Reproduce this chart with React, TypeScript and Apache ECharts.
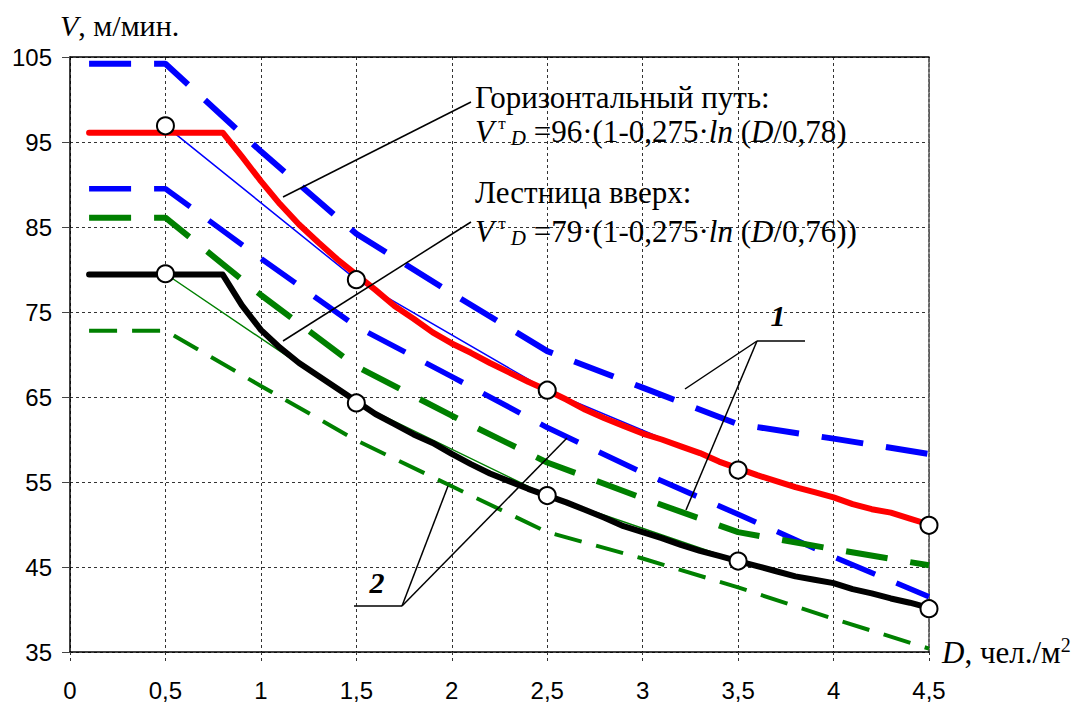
import React, { useEffect, useRef } from "react";
import * as echarts from "echarts";

// ---------- data ----------
const xTickLabels = ["0", "0,5", "1", "1,5", "2", "2,5", "3", "3,5", "4", "4,5"];
const yTickLabels = ["35", "45", "55", "65", "75", "85", "95", "105"];

// dashed curves (D, V)
const blueUpperD = [0.1, 0.5, 1, 1.5, 2, 2.5, 3, 3.5, 4, 4.5];
const blueUpperV = [104.2, 104.2, 93.9, 84.2, 77.2, 70.4, 66.1, 61.8, 60.1, 58.3];
const blueMidD = [0.1, 0.5, 1, 1.5, 2, 2.5, 3, 3.5, 4, 4.5];
const blueMidV = [89.5, 89.5, 81.3, 73.3, 67.4, 61.4, 56.1, 51.2, 46.2, 41.5];
const greenThickD = [0.1, 0.5, 1, 1.5, 2, 2.5, 3, 3.5, 4, 4.5];
const greenThickV = [86.1, 86.1, 77.0, 68.6, 62.8, 57.3, 53.1, 49.1, 47.1, 45.2];
const greenThinD = [0.1, 0.5, 1, 1.5, 2, 2.5, 3, 3.5, 4, 4.5];
const greenThinV = [72.8, 72.8, 66.3, 59.9, 54.5, 49.1, 46.0, 42.6, 38.9, 35.4];

// thick solid curves
const curveD = [0.1, 0.8, 0.9, 1.0, 1.1, 1.2, 1.3, 1.4, 1.5, 1.6, 1.7, 1.8, 1.9, 2.0, 2.1, 2.2, 2.3, 2.4, 2.5, 2.6, 2.7, 2.8, 2.9, 3.0, 3.1, 3.2, 3.3, 3.4, 3.5, 3.6, 3.7, 3.8, 3.9, 4.0, 4.1, 4.2, 4.3, 4.4, 4.5];
const horizV = [96.1, 96.1, 93.3, 90.4, 87.7, 85.3, 83.2, 81.2, 79.4, 77.6, 75.7, 74.2, 72.6, 71.3, 70.2, 69.0, 67.9, 66.8, 65.8, 64.7, 63.5, 62.5, 61.6, 60.7, 60.0, 59.2, 58.4, 57.4, 56.6, 55.8, 55.1, 54.4, 53.8, 53.2, 52.4, 51.8, 51.4, 50.7, 50.0];
const stairsV = [79.4, 79.4, 75.8, 72.9, 70.8, 69.0, 67.5, 66.0, 64.5, 63.0, 61.8, 60.6, 59.6, 58.3, 57.1, 56.0, 55.1, 54.2, 53.4, 52.6, 51.7, 50.8, 49.8, 49.1, 48.4, 47.6, 46.9, 46.3, 45.7, 45.1, 44.5, 43.9, 43.5, 43.1, 42.4, 41.9, 41.3, 40.8, 40.2];

// measured points (circles) and the thin lines through them
const pointD = [0.5, 1.5, 2.5, 3.5, 4.5];
const horizPointV = [96.9, 78.8, 65.8, 56.4, 49.9];
const stairsPointV = [79.5, 64.3, 53.4, 45.7, 40.1];

const zip = (xs: number[], ys: number[]) => xs.map((x, i) => [x, ys[i]]);

const SERIF = "'Liberation Serif', 'Times New Roman', serif";
const SANS = "'Liberation Sans', Arial, sans-serif";

export default function App() {
  const ref = useRef<HTMLDivElement>(null);

  useEffect(() => {
    document.body.style.margin = "0";
    if (!ref.current) return;
    const chart = echarts.init(ref.current, undefined, { renderer: "svg" });

    const dashed = (data: number[][], color: string, width: number, dash: number[]) => ({
      type: "line",
      data,
      symbol: "none",
      showSymbol: false,
      silent: true,
      z: 2,
      lineStyle: { color, width, type: dash, cap: "butt" },
    });
    const solid = (data: number[][], color: string, width: number, z: number) => ({
      type: "line",
      data,
      symbol: "none",
      showSymbol: false,
      silent: true,
      z,
      lineStyle: { color, width, type: "solid", cap: "round", join: "round" },
    });
    const circles = (data: number[][]) => ({
      type: "scatter",
      data,
      symbol: "circle",
      symbolSize: 17,
      silent: true,
      z: 6,
      itemStyle: { color: "#fff", borderColor: "#000", borderWidth: 2, opacity: 1 },
    });

    const lead = (x1: number, y1: number, x2: number, y2: number) => ({
      type: "line",
      silent: true,
      z: 10,
      shape: { x1, y1, x2, y2 },
      style: { stroke: "#000", lineWidth: 1.5 },
    });

    const eqRich = {
      i: { fontFamily: SERIF, fontSize: 31, fontStyle: "italic", lineHeight: 34, fill: "#000" },
      n: { fontFamily: SERIF, fontSize: 31, lineHeight: 34, fill: "#000" },
      sup: { fontFamily: SERIF, fontSize: 17, lineHeight: 10, verticalAlign: "top", fill: "#000" },
      sub: { fontFamily: SERIF, fontSize: 21, fontStyle: "italic", lineHeight: 13, verticalAlign: "bottom", fill: "#000" },
    };

    const option: any = {
      animation: false,
      grid: { left: 70, right: 148, top: 57, bottom: 50, outerBoundsMode: "none", containLabel: false },
      xAxis: [
        {
          type: "value",
          min: 0,
          max: 4.5,
          interval: 0.5,
          axisLine: { show: true, onZero: false, lineStyle: { color: "#000", width: 1.5 } },
          axisTick: { show: true, length: 9, lineStyle: { color: "#333", type: [3, 3] } },
          axisLabel: {
            margin: 26,
            fontSize: 24,
            fontFamily: SANS,
            color: "#000",
            formatter: (v: number) => xTickLabels[Math.round(v / 0.5)] ?? "",
          },
          splitLine: { show: true, lineStyle: { color: "#333", width: 1, type: [3, 3] } },
        },
        {
          type: "value",
          position: "top",
          min: 0,
          max: 4.5,
          axisLine: { show: true, onZero: false, lineStyle: { color: "#000", width: 1.5 } },
          axisTick: { show: false },
          axisLabel: { show: false },
          splitLine: { show: false },
        },
      ],
      yAxis: [
        {
          type: "value",
          min: 35,
          max: 105,
          interval: 10,
          axisLine: { show: true, onZero: false, lineStyle: { color: "#000", width: 1.5 } },
          axisTick: { show: true, length: 8, lineStyle: { color: "#444" } },
          axisLabel: {
            margin: 18,
            fontSize: 24,
            fontFamily: SANS,
            color: "#000",
            formatter: (v: number) => yTickLabels[Math.round((v - 35) / 10)] ?? "",
          },
          splitLine: { show: true, lineStyle: { color: "#333", width: 1, type: [3, 3] } },
        },
        {
          type: "value",
          position: "right",
          min: 35,
          max: 105,
          axisLine: { show: true, onZero: false, lineStyle: { color: "#666", width: 2, type: [3, 2] } },
          axisTick: { show: false },
          axisLabel: { show: false },
          splitLine: { show: false },
        },
      ],
      series: [
        dashed(zip(blueUpperD, blueUpperV), "#0000ff", 6, [42, 23]),
        dashed(zip(blueMidD, blueMidV), "#0000ff", 5.5, [42, 23]),
        dashed(zip(greenThickD, greenThickV), "#008000", 6, [42, 23]),
        dashed(zip(greenThinD, greenThinV), "#008000", 4, [28, 15]),
        solid(zip(pointD, horizPointV), "#0000ff", 1.5, 3),
        solid(zip(pointD, stairsPointV), "#008000", 1.5, 3),
        solid(zip(curveD, horizV), "#ff0000", 6, 4),
        solid(zip(curveD, stairsV), "#000000", 6, 4),
        circles(zip(pointD, horizPointV)),
        circles(zip(pointD, stairsPointV)),
      ],
      graphic: [
        // axis titles
        {
          type: "text",
          x: 60,
          y: 25,
          z: 10,
          style: {
            text: "{i|V}{n|, м/мин.}",
            verticalAlign: "middle",
            rich: {
              i: { fontFamily: SERIF, fontSize: 30, fontStyle: "italic", fill: "#000" },
              n: { fontFamily: SERIF, fontSize: 30, fill: "#000" },
            },
          },
        },
        {
          type: "text",
          x: 942,
          y: 652,
          z: 10,
          style: {
            text: "{i|D}{n|, чел./м}{sup|2}",
            verticalAlign: "middle",
            rich: {
              i: { fontFamily: SERIF, fontSize: 31, fontStyle: "italic", lineHeight: 34, fill: "#000" },
              n: { fontFamily: SERIF, fontSize: 31, lineHeight: 34, fill: "#000" },
              sup: { fontFamily: SERIF, fontSize: 20, lineHeight: 7, verticalAlign: "top", fill: "#000" },
            },
          },
        },
        // annotations
        {
          type: "text",
          x: 475,
          y: 97.5,
          z: 10,
          style: { text: "Горизонтальный путь:", fontFamily: SERIF, fontSize: 31, lineHeight: 32, fill: "#000", verticalAlign: "middle" },
        },
        {
          type: "text",
          x: 475,
          y: 131.5,
          z: 10,
          style: {
            text: "{i|V}{sup| т}{sub| D}{n| =96·(1-0,275·}{i|ln}{n| (}{i|D}{n|/0,78)}",
            verticalAlign: "middle",
            rich: eqRich,
          },
        },
        {
          type: "text",
          x: 475,
          y: 192.5,
          z: 10,
          style: { text: "Лестница вверх:", fontFamily: SERIF, fontSize: 31, lineHeight: 32, fill: "#000", verticalAlign: "middle" },
        },
        {
          type: "text",
          x: 475,
          y: 231.5,
          z: 10,
          style: {
            text: "{i|V}{sup| т}{sub| D}{n| =79·(1-0,275·}{i|ln}{n| (}{i|D}{n|/0,76))}",
            verticalAlign: "middle",
            rich: eqRich,
          },
        },
        {
          type: "text",
          x: 778,
          y: 315,
          z: 10,
          style: { text: "1", fontFamily: SERIF, fontSize: 30, fontWeight: "bold", fontStyle: "italic", fill: "#000", align: "center", verticalAlign: "middle" },
        },
        {
          type: "text",
          x: 377,
          y: 582,
          z: 10,
          style: { text: "2", fontFamily: SERIF, fontSize: 30, fontWeight: "bold", fontStyle: "italic", fill: "#000", align: "center", verticalAlign: "middle" },
        },
        // leader lines
        lead(283, 197, 471, 102),
        lead(283, 341, 471, 222),
        lead(757, 341, 805, 341),
        lead(757, 341, 685, 389),
        lead(757, 341, 686, 510),
        lead(354, 606, 402, 606),
        lead(402, 606, 448, 486),
        lead(402, 606, 567, 438),
      ],
    };

    chart.setOption(option);
    return () => chart.dispose();
  }, []);

  return <div ref={ref} style={{ width: 1077, height: 702, background: "#fff" }} />;
}
